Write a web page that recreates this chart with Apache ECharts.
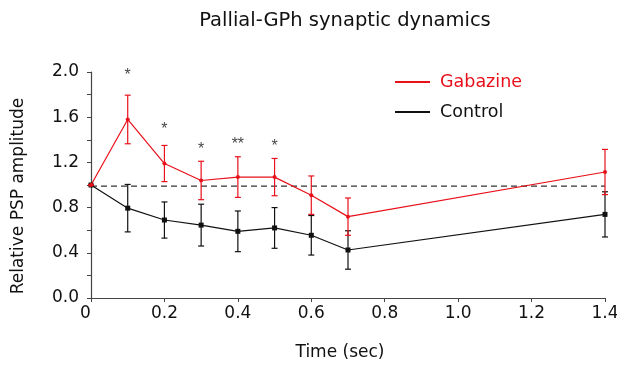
<!DOCTYPE html>
<html>
<head>
<meta charset="utf-8">
<script src="https://cdn.jsdelivr.net/npm/echarts@6/dist/echarts.min.js"></script>
<style>
  html, body { margin: 0; padding: 0; background: #fff; }
  #main { width: 617px; height: 369px; }
</style>
</head>
<body>
<div id="main"></div>
<script>
// data
const times = [0, 0.1, 0.2, 0.3, 0.4, 0.5, 0.6, 0.7, 1.4];
const gabazine = [1.0, 1.58, 1.19, 1.04, 1.07, 1.07, 0.91, 0.72, 1.115];
const gabazineErr = [0, 0.215, 0.16, 0.17, 0.18, 0.165, 0.17, 0.165, 0.2];
const control = [1.0, 0.795, 0.69, 0.645, 0.59, 0.62, 0.555, 0.425, 0.74];
const controlErr = [0, 0.21, 0.16, 0.185, 0.18, 0.18, 0.175, 0.17, 0.2];
const baseline = 0.99;
const starTimes = [0.1, 0.2, 0.3, 0.4, 0.5];
const starLevels = [1.97, 1.49, 1.31, 1.36, 1.34];
const starTexts = ['*', '*', '*', '**', '*'];

const RED = '#e8101a';
const BLACK = '#111';
const FONT = '"DejaVu Sans", sans-serif';

function pairs(ys) {
    return times.map((t, i) => [t, ys[i]]);
}

function errData(ys, es) {
    return times.map((t, i) => [t, ys[i] - es[i], ys[i] + es[i]]);
}

function errorBars(color) {
    return function (params, api) {
        const x = api.value(0);
        const lo = api.coord([x, api.value(1)]);
        const hi = api.coord([x, api.value(2)]);
        const w = 3;
        const style = {stroke: color, lineWidth: 1.2};
        return {
            type: 'group',
            children: [
                {type: 'line', shape: {x1: lo[0], y1: lo[1], x2: hi[0], y2: hi[1]}, style: style},
                {type: 'line', shape: {x1: lo[0] - w, y1: lo[1], x2: lo[0] + w, y2: lo[1]}, style: style},
                {type: 'line', shape: {x1: hi[0] - w, y1: hi[1], x2: hi[0] + w, y2: hi[1]}, style: style}
            ]
        };
    };
}

const chart = echarts.init(document.getElementById('main'));
chart.setOption({
    animation: false,
    textStyle: {fontFamily: FONT},
    title: {
        text: 'Pallial-GPh synaptic dynamics',
        left: 340,
        textAlign: 'center',
        top: 6,
        textStyle: {fontFamily: FONT, fontSize: 19.5, fontWeight: 'normal', color: '#111'}
    },
    legend: {
        orient: 'vertical',
        left: 390,
        top: 68,
        itemWidth: 35,
        itemHeight: 2,
        itemGap: 12,
        icon: 'rect',
        textStyle: {fontFamily: FONT, fontSize: 17.5, color: '#111', padding: [0, 0, 0, 5]},
        data: [
            {name: 'Gabazine', textStyle: {color: RED}},
            {name: 'Control', textStyle: {color: '#111'}}
        ]
    },
    grid: {left: 91, right: 12, top: 72, bottom: 71, outerBoundsMode: 'none'},
    xAxis: {
        type: 'value',
        min: 0,
        max: 1.4,
        interval: 0.2,
        name: 'Time (sec)',
        nameLocation: 'middle',
        nameGap: 46,
        nameTextStyle: {fontFamily: FONT, fontSize: 17, color: '#111', padding: [0, 16, 0, 0]},
        axisLine: {lineStyle: {color: '#444', width: 1.2}},
        axisTick: {show: true, length: 4, lineStyle: {color: '#444'}},
        axisLabel: {
            fontFamily: FONT, fontSize: 17, color: '#111', margin: 7,
            formatter: v => (v === 0 ? '{z|0}' : v.toFixed(1)),
            rich: {z: {fontFamily: FONT, fontSize: 17, color: '#111', padding: [0, 11, 0, 0]}}
        },
        splitLine: {show: false}
    },
    yAxis: {
        type: 'value',
        min: 0,
        max: 2.0,
        interval: 0.4,
        name: 'Relative PSP amplitude',
        nameLocation: 'middle',
        nameGap: 64,
        nameTextStyle: {fontFamily: FONT, fontSize: 17, color: '#111', padding: [0, 22, 0, 0]},
        axisLine: {show: true, lineStyle: {color: '#444', width: 1.2}},
        axisTick: {show: true, length: 4, lineStyle: {color: '#444'}},
        minorTick: {show: true, splitNumber: 2, length: 4, lineStyle: {color: '#444'}},
        axisLabel: {
            fontFamily: FONT, fontSize: 17, color: '#111', margin: 12,
            formatter: v => v.toFixed(1)
        },
        splitLine: {show: false}
    },
    series: [
        {
            name: 'baseline',
            type: 'line',
            data: [[0, baseline], [1.4, baseline]],
            symbol: 'none',
            silent: true,
            lineStyle: {color: '#333', width: 1.2, type: [6, 4]},
            z: 1
        },
        {
            name: 'ControlErr',
            type: 'custom',
            data: errData(control, controlErr),
            renderItem: errorBars(BLACK),
            encode: {x: 0, y: [1, 2]},
            silent: true,
            z: 2
        },
        {
            name: 'Control',
            type: 'line',
            data: pairs(control),
            color: BLACK,
            symbol: 'rect',
            symbolSize: 5,
            lineStyle: {color: BLACK, width: 1.2},
            itemStyle: {color: BLACK},
            z: 3
        },
        {
            name: 'GabazineErr',
            type: 'custom',
            data: errData(gabazine, gabazineErr),
            renderItem: errorBars(RED),
            encode: {x: 0, y: [1, 2]},
            silent: true,
            z: 4
        },
        {
            name: 'Gabazine',
            type: 'line',
            data: pairs(gabazine),
            color: RED,
            symbol: 'circle',
            symbolSize: 4,
            lineStyle: {color: RED, width: 1.2},
            itemStyle: {color: RED},
            z: 5
        },
        {
            name: 'stars',
            type: 'scatter',
            data: starTimes.map((t, i) => ({value: [t, starLevels[i]], label: {formatter: starTexts[i]}})),
            symbolSize: 0,
            silent: true,
            label: {
                show: true,
                position: 'inside',
                fontFamily: '"Liberation Sans", Arial, sans-serif',
                fontSize: 16,
                color: '#111'
            }
        }
    ]
});
</script>
</body>
</html>
